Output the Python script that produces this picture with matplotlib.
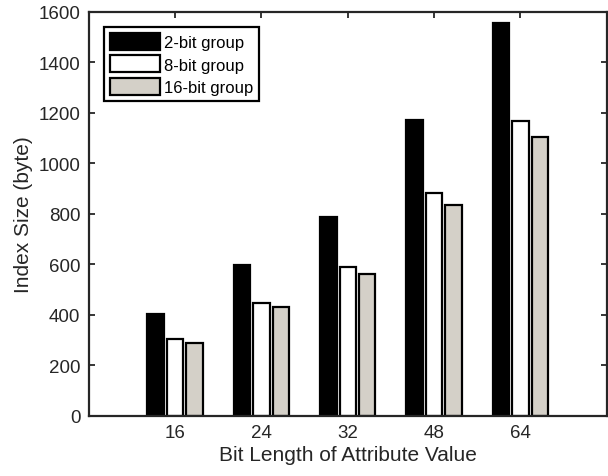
import numpy as np
import matplotlib
matplotlib.use('Agg')
import matplotlib.pyplot as plt

plt.rcParams['font.family'] = ['Liberation Sans', 'DejaVu Sans']

bit_lengths = ['16', '24', '32', '48', '64']
series_names = ['2-bit group', '8-bit group', '16-bit group']
group2 = [404, 597, 788, 1172, 1556]
group8 = [305, 449, 591, 882, 1168]
group16 = [289, 433, 560, 835, 1106]

colors = ['black', 'white', '#d4d0c8']

fig = plt.figure(figsize=(6.08, 4.77), dpi=100)
ax = fig.add_axes([0.146, 0.126, 0.852, 0.847])

x = np.arange(1, len(bit_lengths) + 1)
w = 0.19
off = 0.225
for i, (vals, name) in enumerate(zip([group2, group8, group16], series_names)):
    ax.bar(x + (i - 1) * off, vals, w, color=colors[i], edgecolor='black',
           linewidth=1.6, label=name, zorder=2)

ax.set_xlim(0, 6)
ax.set_ylim(0, 1600)
ax.set_xticks(x)
ax.set_xticklabels(bit_lengths)
ax.set_yticks(np.arange(0, 1601, 200))
ax.tick_params(direction='in', length=4, width=1.3, top=True, right=True,
               labelsize=13.5, colors='#262626', pad=6)
for sp in ax.spines.values():
    sp.set_linewidth(1.6)
    sp.set_color('#262626')
    sp.set_zorder(3)

ax.set_xlabel('Bit Length of Attribute Value', fontsize=15, color='#262626', labelpad=3)
ax.set_ylabel('Index Size (byte)', fontsize=15, color='#262626', labelpad=4)

leg = ax.legend(loc='upper left', fontsize=12, frameon=True, fancybox=False,
                edgecolor='black', handlelength=3.0, handleheight=1.2,
                labelspacing=0.33, handletextpad=0.25, borderpad=0.35,
                borderaxespad=0.9)
leg.get_frame().set_linewidth(1.6)
leg.get_frame().set_alpha(1)

fig.savefig('out.png', dpi=100)
